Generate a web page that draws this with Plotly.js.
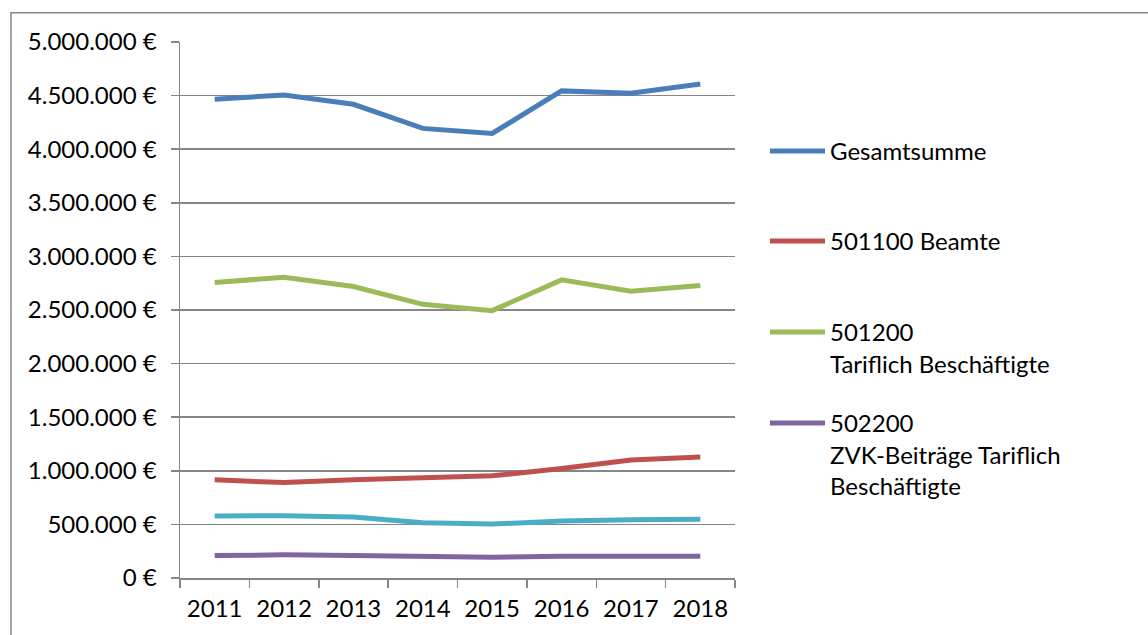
<!DOCTYPE html>
<html>
<head>
<meta charset="utf-8">
<script src="https://cdn.plot.ly/plotly-3.0.1.min.js"></script>
<style>html,body{margin:0;padding:0;background:#fff;}#chart{width:1148px;height:635px;}</style>
</head>
<body>
<div id="chart"></div>
<script>
const years = ['2011','2012','2013','2014','2015','2016','2017','2018'];
const gesamtsumme = [4466000, 4506000, 4419000, 4194000, 4147000, 4544000, 4522000, 4609000];
const beamte = [916000, 890000, 917000, 934000, 953000, 1022000, 1100000, 1128000];
const tariflich = [2756000, 2806000, 2719000, 2553000, 2494000, 2781000, 2675000, 2728000];
const zvkTariflich = [209000, 216000, 209000, 200000, 194000, 203000, 203000, 203000];
const weitere = [578000, 581000, 569000, 516000, 503000, 531000, 544000, 547000];

const names = ['Gesamtsumme', '501100 Beamte', '501200<br>Tariflich Beschäftigte', '502200<br>ZVK-Beiträge Tariflich<br>Beschäftigte'];
const colors = ['#4A7EBB', '#C0504D', '#9BBB59', '#8064A2', '#4BACC6'];

const FONT = 'Lato, "Open Sans", "Liberation Sans", sans-serif';
const FS = 24;

function tr(y, name, color, legend, show) {
  return {
    type: 'scatter', mode: 'lines', x: years, y: y, name: name,
    line: {color: color, width: 5, shape: 'linear'},
    legend: legend, showlegend: show,
    hovertemplate: '%{x}: %{y:,.0f} €<extra></extra>'
  };
}

const data = [
  tr(weitere, 'Weitere Position', colors[4], 'legend', false),
  tr(zvkTariflich, names[3], colors[3], 'legend4', true),
  tr(tariflich, names[2], colors[2], 'legend3', true),
  tr(beamte, names[1], colors[1], 'legend2', true),
  tr(gesamtsumme, names[0], colors[0], 'legend', true)
];

const L = 180, R = 735, T = 42, B = 578, W = 1148, H = 635;
const px = v => (v - L) / (R - L);
const py = v => (B - v) / (B - T);

function leg(topPx) {
  return {
    x: px(765), xanchor: 'left', y: py(topPx), yanchor: 'top',
    bgcolor: 'rgba(0,0,0,0)', borderwidth: 0,
    font: {family: FONT, size: FS, color: '#000'},
    valign: 'top', itemwidth: 55, tracegroupgap: 0
  };
}

const layout = {
  width: W, height: H,
  margin: {l: L, r: W - R, t: T, b: H - B, pad: 0},
  paper_bgcolor: '#fff', plot_bgcolor: '#fff',
  separators: ',.',
  font: {family: FONT, size: FS, color: '#000'},
  showlegend: true,
  xaxis: {
    type: 'category', range: [-0.5, 7.5], tickson: 'boundaries',
    ticks: 'outside', ticklen: 8, tickwidth: 1.5, tickcolor: '#868686',
    showline: true, linecolor: '#868686', linewidth: 1.5,
    showgrid: false, zeroline: false,
    tickfont: {family: FONT, size: FS, color: '#000'},
    ticklabelstandoff: 9, fixedrange: true
  },
  yaxis: {
    range: [0, 5000000], dtick: 500000, tick0: 0,
    tickformat: ',.0f', ticksuffix: ' €',
    ticks: 'outside', ticklen: 8, tickwidth: 1.5, tickcolor: '#868686',
    showline: true, linecolor: '#868686', linewidth: 1.5,
    showgrid: true, gridcolor: '#868686', gridwidth: 1.5,
    zeroline: false,
    tickfont: {family: FONT, size: FS, color: '#000'},
    ticklabelstandoff: 9, fixedrange: true
  },
  legend: leg(129),
  legend2: leg(219),
  legend3: leg(310),
  legend4: leg(401),
  shapes: [{
    type: 'rect', xref: 'paper', yref: 'paper',
    x0: px(11), x1: px(1170), y0: py(660), y1: py(12.7),
    line: {color: '#888888', width: 1.5}, fillcolor: 'rgba(0,0,0,0)', layer: 'below'
  }]
};

Plotly.newPlot('chart', data, layout, {displayModeBar: false, staticPlot: true});
</script>
</body>
</html>
